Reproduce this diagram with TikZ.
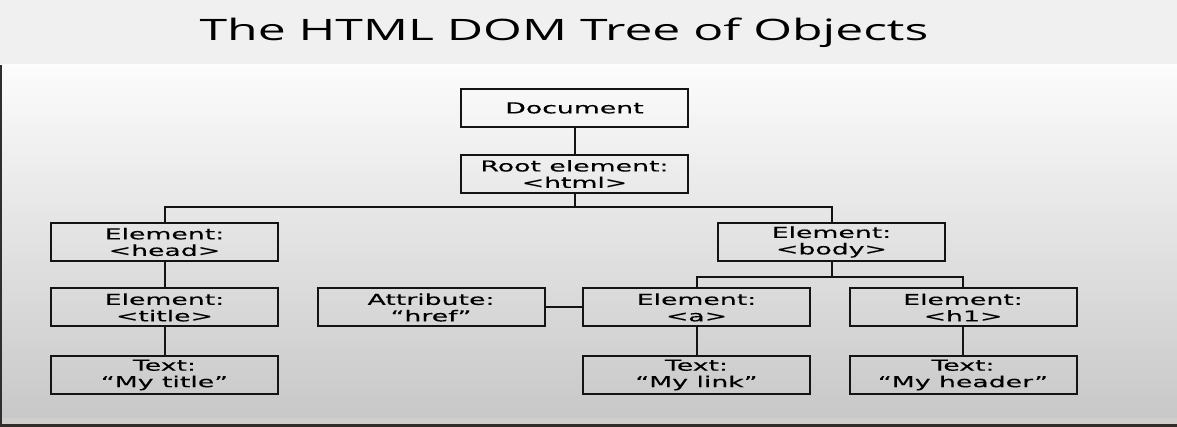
\documentclass[tikz,border=0pt]{standalone}
\usepackage{fontspec}
\newfontfamily\boxfont[FakeStretch=1.78,FakeBold=0.25]{DejaVu Sans}
\newfontfamily\titlefont[FakeStretch=1.69]{Open Sans}
\definecolor{band}{HTML}{F0F0F0}
\definecolor{bgtop}{HTML}{FCFCFC}
\definecolor{bgbot}{HTML}{C8C8C8}
\definecolor{edge}{HTML}{141414}
\definecolor{strip}{HTML}{D0CECC}
\definecolor{darkstrip}{HTML}{322D28}
\tikzset{
  box/.style={draw=edge, line width=2pt, minimum width=227pt, minimum height=38pt,
    inner sep=0pt, align=center, text=black,
    font=\boxfont\fontsize{15}{16.5}\selectfont},
  link/.style={draw=edge, line width=2pt}
}
\begin{document}
\begin{tikzpicture}[x=1pt,y=-1pt]
\useasboundingbox (0,0) rectangle (1177,427);
% backgrounds
\fill[band] (0,0) rectangle (1177,65);
\shade[top color=bgtop, bottom color=bgbot] (0,65) rectangle (1177,418);
\fill[strip] (0,418) rectangle (1177,424);
\fill[darkstrip] (0,424) rectangle (1177,427);
\fill[darkstrip] (0,65) rectangle (1.5,427);
% title
\node[font=\titlefont\fontsize{29.5}{32}\selectfont, anchor=base, inner sep=0pt] (title) at (564,41) {The HTML DOM Tree of Objects};
% nodes
\node[box] (doc) at (574.5,108) {Document};
\node[box] (root) at (574.5,174) {Root element:\\<html>};
\node[box] (head) at (164.5,242) {Element:\\<head>};
\node[box] (body) at (831.5,242) {Element:\\<body>};
\node[box] (titleel) at (164.5,307.5) {Element:\\<title>};
\node[box] (attr) at (431,307.5) {Attribute:\\“href”};
\node[box] (a) at (696.5,307.5) {Element:\\<a>};
\node[box] (h1) at (963,307.5) {Element:\\<h1>};
\node[box] (ttitle) at (164.5,375) {Text:\\“My title”};
\node[box] (tlink) at (696.5,375) {Text:\\“My link”};
\node[box] (theader) at (963,375) {Text:\\“My header”};
% connectors
\draw[link] (doc) -- (root);
\coordinate (bar1) at (574.5,207.5);
\draw[link] (root.south) -- (bar1);
\draw[link] (head.north) |- (bar1) -| (body.north);
\coordinate (bar2) at (831.5,277.5);
\draw[link] (body.south) -- (bar2);
\draw[link] (a.north) |- (bar2) -| (h1.north);
\draw[link] (head) -- (titleel);
\draw[link] (titleel) -- (ttitle);
\draw[link] (a) -- (tlink);
\draw[link] (h1) -- (theader);
\draw[link] (attr) -- (a);
\end{tikzpicture}
\end{document}
